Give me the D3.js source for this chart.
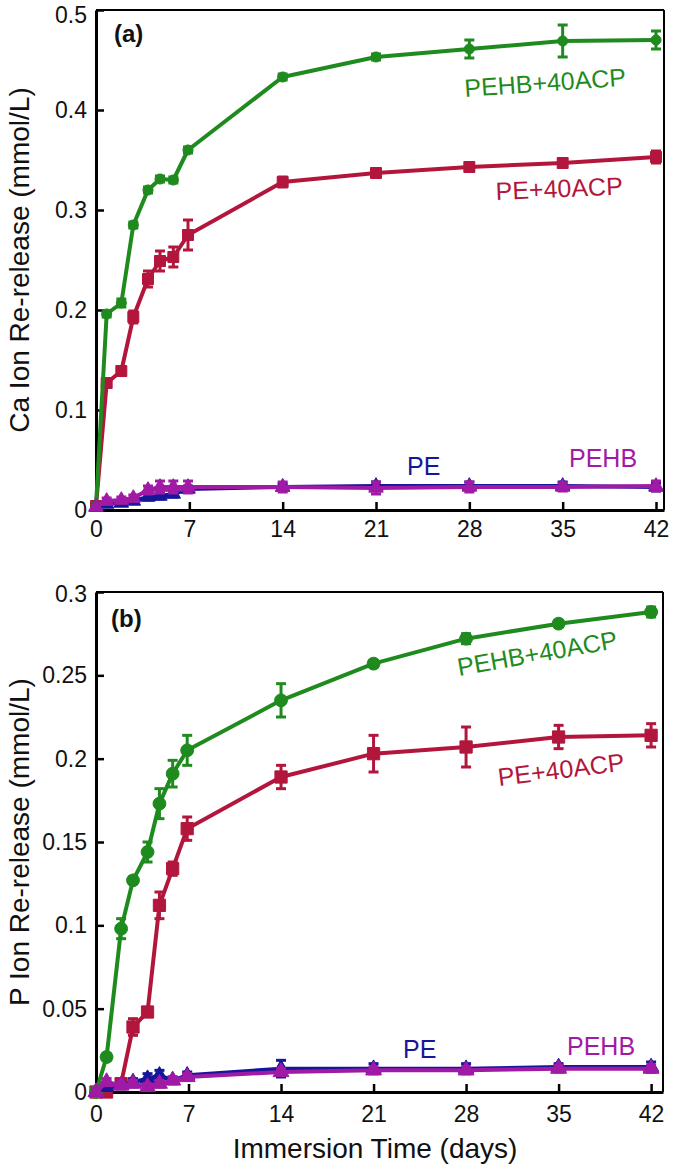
<!DOCTYPE html>
<html>
<head>
<meta charset="utf-8">
<script src="https://cdn.jsdelivr.net/npm/d3@7"></script>
<style>
  html, body { margin: 0; padding: 0; background: #fff; }
  svg { display: block; font-family: "Liberation Sans", Arial, Helvetica, sans-serif; }
</style>
</head>
<body>
<svg id="chart" width="675" height="1173"></svg>
<script>
// ---------- data ----------
const days = [0, 0.8, 1.9, 2.8, 3.9, 4.8, 5.8, 6.9, 14, 21, 28, 35, 42];
const xTicks = [0, 7, 14, 21, 28, 35, 42];

const seriesNames = ["PE+40ACP", "PEHB+40ACP", "PE", "PEHB"];

// Panel (a): Ca ion re-release (mmol/L)
const caPE40      = [0.004, 0.127, 0.139, 0.193, 0.231, 0.249, 0.253, 0.275, 0.328, 0.337, 0.343, 0.347, 0.353];
const caPE40Err   = [0.002, 0.003, 0.004, 0.006, 0.008, 0.010, 0.010, 0.015, 0.005, 0.003, 0.003, 0.004, 0.006];
const caPEHB40    = [0.004, 0.196, 0.207, 0.285, 0.320, 0.331, 0.330, 0.360, 0.433, 0.453, 0.461, 0.469, 0.470];
const caPEHB40Err = [0.002, 0.003, 0.004, 0.003, 0.003, 0.003, 0.003, 0.003, 0.003, 0.003, 0.009, 0.016, 0.009];
const caPE        = [0.003, 0.006, 0.007, 0.009, 0.013, 0.014, 0.016, 0.021, 0.023, 0.024, 0.024, 0.024, 0.023];
const caPEErr     = [0.002, 0.002, 0.002, 0.002, 0.003, 0.003, 0.003, 0.003, 0.003, 0.004, 0.004, 0.004, 0.004];
const caPEHB      = [0.003, 0.009, 0.010, 0.012, 0.020, 0.023, 0.023, 0.023, 0.023, 0.022, 0.023, 0.023, 0.024];
const caPEHBErr   = [0.002, 0.003, 0.003, 0.003, 0.004, 0.006, 0.006, 0.006, 0.005, 0.006, 0.005, 0.004, 0.005];
const caTicks = [0, 0.1, 0.2, 0.3, 0.4, 0.5];
const caTickLabels = ["0", "0.1", "0.2", "0.3", "0.4", "0.5"];

// Panel (b): P ion re-release (mmol/L)
const pPE40      = [0.000, 0.000, 0.005, 0.039, 0.048, 0.112, 0.134, 0.158, 0.189, 0.203, 0.207, 0.213, 0.214];
const pPE40Err   = [0.002, 0.002, 0.002, 0.005, 0.002, 0.008, 0.004, 0.007, 0.007, 0.011, 0.012, 0.007, 0.007];
const pPEHB40    = [0.000, 0.021, 0.098, 0.127, 0.144, 0.173, 0.191, 0.205, 0.235, 0.257, 0.272, 0.281, 0.288];
const pPEHB40Err = [0.002, 0.002, 0.006, 0.002, 0.006, 0.009, 0.008, 0.009, 0.010, 0.002, 0.003, 0.002, 0.003];
const pPE        = [0.000, 0.003, 0.004, 0.006, 0.008, 0.010, 0.007, 0.010, 0.014, 0.014, 0.014, 0.015, 0.015];
const pPEErr     = [0.001, 0.002, 0.002, 0.002, 0.003, 0.003, 0.002, 0.002, 0.005, 0.003, 0.003, 0.002, 0.003];
const pPEHB      = [0.000, 0.006, 0.004, 0.005, 0.003, 0.005, 0.007, 0.009, 0.012, 0.013, 0.013, 0.014, 0.014];
const pPEHBErr   = [0.001, 0.002, 0.002, 0.002, 0.002, 0.002, 0.002, 0.002, 0.002, 0.002, 0.002, 0.002, 0.002];
const pTicks = [0, 0.05, 0.1, 0.15, 0.2, 0.25, 0.3];
const pTickLabels = ["0", "0.05", "0.1", "0.15", "0.2", "0.25", "0.3"];

// ---------- styles ----------
const colors = { "PE+40ACP": "#b3163c", "PEHB+40ACP": "#1f8b1f", "PE": "#16169a", "PEHB": "#a11aa6" };
const symbols = { "PE+40ACP": d3.symbolSquare, "PEHB+40ACP": d3.symbolCircle, "PE": d3.symbolTriangle, "PEHB": d3.symbolTriangle };

const svg = d3.select("#chart");

function drawPanel(cfg) {
  const g = svg.append("g");
  const x = d3.scaleLinear().domain(cfg.xDomain).range([cfg.left, cfg.right]);
  const y = d3.scaleLinear().domain(cfg.yDomain).range([cfg.bottom, cfg.top]);

  // frame (top + right thinner)
  g.append("line").attr("x1", cfg.left).attr("x2", cfg.right).attr("y1", cfg.top).attr("y2", cfg.top)
    .attr("stroke", "#000").attr("stroke-width", 2);
  g.append("line").attr("x1", cfg.right).attr("x2", cfg.right).attr("y1", cfg.top).attr("y2", cfg.bottom)
    .attr("stroke", "#000").attr("stroke-width", 2);

  // x axis
  const xAxis = g.append("g").attr("transform", `translate(0,${cfg.bottom})`)
    .call(d3.axisBottom(x).tickValues(xTicks).tickFormat(d3.format("d")).tickSizeInner(-8).tickSizeOuter(0).tickPadding(cfg.xPad));
  xAxis.select(".domain").attr("stroke-width", 3);
  xAxis.selectAll(".tick line").attr("stroke-width", 2.5);
  xAxis.selectAll(".tick text").attr("font-size", 23).attr("font-family", "Liberation Sans, Arial, sans-serif").attr("fill", "#111");

  // y axis
  const yAxis = g.append("g").attr("transform", `translate(${cfg.left},0)`)
    .call(d3.axisLeft(y).tickValues(cfg.yTicks).tickFormat((d, i) => cfg.yTickLabels[i]).tickSizeInner(-8).tickSizeOuter(0).tickPadding(9));
  yAxis.select(".domain").attr("stroke-width", 3);
  yAxis.selectAll(".tick line").attr("stroke-width", 2.5);
  yAxis.selectAll(".tick text").attr("font-size", 23).attr("font-family", "Liberation Sans, Arial, sans-serif").attr("fill", "#111");
  // keep the topmost label inside the picture, as in the reference
  yAxis.selectAll(".tick text").filter(d => d === cfg.yDomain[1]).attr("y", cfg.topLabelShift);

  // y title
  g.append("text")
    .attr("transform", `translate(${cfg.yTitleX},${(cfg.top + cfg.bottom) / 2}) rotate(-90)`)
    .attr("text-anchor", "middle").attr("font-size", 28).attr("fill", "#111")
    .text(cfg.yTitle);

  // panel tag
  g.append("text").attr("x", cfg.tag.x).attr("y", cfg.tag.y)
    .attr("font-size", 24).attr("font-weight", "bold").attr("fill", "#111").text(cfg.tag.text);

  const line = d3.line().x(d => x(d.t)).y(d => y(d.v));

  cfg.series.forEach(s => {
    const col = colors[s.name];
    const pts = days.map((t, i) => ({ t, v: s.values[i], e: s.errors[i] }));
    const sg = g.append("g");
    sg.append("path").datum(pts).attr("d", line)
      .attr("fill", "none").attr("stroke", col).attr("stroke-width", 4).attr("stroke-linejoin", "round");
    // error bars
    const eb = sg.selectAll(".eb").data(pts).join("g");
    eb.append("line").attr("x1", d => x(d.t)).attr("x2", d => x(d.t))
      .attr("y1", d => y(d.v - d.e)).attr("y2", d => y(d.v + d.e))
      .attr("stroke", col).attr("stroke-width", 3);
    [-1, 1].forEach(sgn => {
      eb.append("line").attr("x1", d => x(d.t) - 5).attr("x2", d => x(d.t) + 5)
        .attr("y1", d => y(d.v + sgn * d.e)).attr("y2", d => y(d.v + sgn * d.e))
        .attr("stroke", col).attr("stroke-width", 3);
    });
    // markers
    sg.selectAll(".mk").data(pts).join("path")
      .attr("transform", d => `translate(${x(d.t)},${y(d.v)})`)
      .attr("d", d3.symbol().type(symbols[s.name]).size(s.size))
      .attr("fill", col).attr("stroke", col).attr("stroke-width", 1);
  });

  // series labels
  cfg.labels.forEach(l => {
    g.append("text")
      .attr("transform", `translate(${l.x},${l.y}) rotate(${l.rot})`)
      .attr("font-size", 25).attr("fill", colors[l.name]).text(l.name);
  });
}

drawPanel({
  left: 96, right: 664, top: 10, bottom: 510,
  xDomain: [0, 42.6], yDomain: [0, 0.5], xPad: 11, topLabelShift: 5,
  yTicks: caTicks, yTickLabels: caTickLabels,
  yTitle: "Ca Ion Re-release (mmol/L)", yTitleX: 29,
  tag: { x: 114, y: 42, text: "(a)" },
  series: [
    { name: "PE+40ACP", values: caPE40, errors: caPE40Err, size: 120 },
    { name: "PEHB+40ACP", values: caPEHB40, errors: caPEHB40Err, size: 80 },
    { name: "PE", values: caPE, errors: caPEErr, size: 90 },
    { name: "PEHB", values: caPEHB, errors: caPEHBErr, size: 90 }
  ],
  labels: [
    { name: "PEHB+40ACP", x: 465, y: 97, rot: -4 },
    { name: "PE+40ACP", x: 496, y: 200, rot: -2.5 },
    { name: "PE", x: 407, y: 475, rot: 0 },
    { name: "PEHB", x: 569, y: 467, rot: 0 }
  ]
});

drawPanel({
  left: 96, right: 663, top: 592, bottom: 1092,
  xDomain: [0, 42.9], yDomain: [0, 0.3], xPad: 14, topLabelShift: 2,
  yTicks: pTicks, yTickLabels: pTickLabels,
  yTitle: "P Ion Re-release (mmol/L)", yTitleX: 29,
  tag: { x: 111, y: 627, text: "(b)" },
  series: [
    { name: "PE+40ACP", values: pPE40, errors: pPE40Err, size: 150 },
    { name: "PEHB+40ACP", values: pPEHB40, errors: pPEHB40Err, size: 130 },
    { name: "PE", values: pPE, errors: pPEErr, size: 100 },
    { name: "PEHB", values: pPEHB, errors: pPEHBErr, size: 110 }
  ],
  labels: [
    { name: "PEHB+40ACP", x: 459, y: 676, rot: -10 },
    { name: "PE+40ACP", x: 499, y: 786, rot: -7 },
    { name: "PE", x: 403, y: 1058, rot: 0 },
    { name: "PEHB", x: 567, y: 1055, rot: 0 }
  ]
});

// shared x title
svg.append("text").attr("x", 375).attr("y", 1158).attr("text-anchor", "middle")
  .attr("font-size", 28).attr("fill", "#111").text("Immersion Time (days)");
</script>
</body>
</html>
